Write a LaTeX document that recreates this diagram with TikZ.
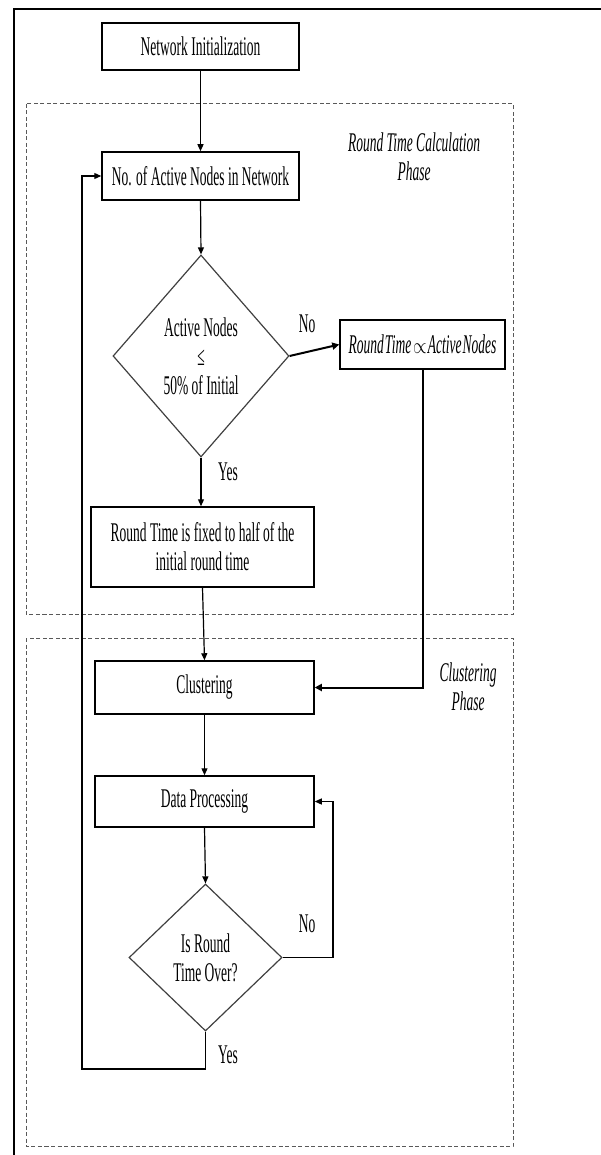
\documentclass[tikz,border=0pt]{standalone}
\usepackage{fontspec}
\setmainfont{Liberation Serif}[FakeStretch=0.5]
\usetikzlibrary{shapes.geometric,arrows.meta}
\tikzset{
  txt/.style={font=\fontsize{27}{29}\selectfont, align=center},
  box/.style={txt, draw=black, line width=1.5pt, inner sep=0pt},
  dia/.style={txt, diamond, draw=black!75, line width=1.2pt, inner sep=0pt},
  conn/.style={draw=black, line width=1.2pt, -{Triangle[length=7pt,width=6pt]}},
  thickconn/.style={draw=black, line width=2pt, -{Triangle[length=7pt,width=7pt]}},
  phase/.style={draw=black!65, line width=1pt, dash pattern=on 4pt off 2.5pt},
  lbl/.style={txt, inner sep=0pt},
  phlbl/.style={txt, font=\fontsize{27}{29}\selectfont\itshape, inner sep=0pt}
}
\begin{document}
\begin{tikzpicture}[x=1pt,y=-1pt]
\path[use as bounding box] (0,0) rectangle (601,1155);
\begin{scope}
\clip (0,0) rectangle (601,1155);
\draw[line width=2pt] (14,9) rectangle (640,1180);
\end{scope}
% phase boxes
\draw[phase] (26,104) rectangle (513,614);
\draw[phase] (26,638) rectangle (513,1146);
\node[phlbl] (ph1) at (414,157) {Round Time Calculation\\Phase};
\node[phlbl] (ph2) at (468,687) {Clustering\\Phase};
% nodes
\node[box, minimum width=197pt, minimum height=47pt] (init) at (200.5,46.5) {Network Initialization};
\node[box, minimum width=197pt, minimum height=48pt] (act) at (200.5,176) {No. of Active Nodes in Network};
\node[dia, minimum width=176pt, minimum height=202pt] (d1) at (201,356) {Active Nodes\\≤\\50\% of Initial};
\node[box, minimum width=165pt, minimum height=49pt, font=\fontsize{27}{29}\selectfont\itshape] (rt) at (422.5,344.5) {Round\hspace{1pt}Time\hspace{2pt}\scalebox{0.7}[0.9]{$\propto$}\hspace{1pt}Active\hspace{1pt}Nodes};
\node[box, minimum width=223pt, minimum height=80pt] (fix) at (202.5,547) {Round Time is fixed to half of the\\initial round time};
\node[box, minimum width=219pt, minimum height=53pt] (clus) at (204.5,687.5) {Clustering};
\node[box, minimum width=219pt, minimum height=51pt] (dp) at (204.5,801.5) {Data Processing};
\node[dia, minimum width=153pt, minimum height=147pt] (d2) at (205.5,957.5) {Is Round\\Time Over?};
% labels
\node[lbl] (no1) at (307,324) {No};
\node[lbl] (yes1) at (228,472) {Yes};
\node[lbl] (no2) at (307,924) {No};
\node[lbl] (yes2) at (228,1055) {Yes};
% corner coordinates
\coordinate (nc) at (333,957.5);
\coordinate (yc1) at (205.5,1069);
\coordinate (yc2) at (82,1069);
% connectors
\draw[conn] (init.south) -- (act.north);
\draw[conn] (act.south) -- (d1.north);
\draw[thickconn] (d1.east) -- (rt.west);
\draw[conn] (d1.south) -- (d1.south |- fix.north);
\draw[thickconn] (rt.south) |- (clus.east);
\draw[conn] (fix.south) -- (clus.north);
\draw[conn] (clus.south) -- (dp.north);
\draw[conn] (dp.south) -- (d2.north);
\draw[conn] (d2.east) -- (nc) |- (dp.east);
\draw[conn] (d2.south) -- (yc1) -- (yc2) |- (act.west);
\end{tikzpicture}
\end{document}
